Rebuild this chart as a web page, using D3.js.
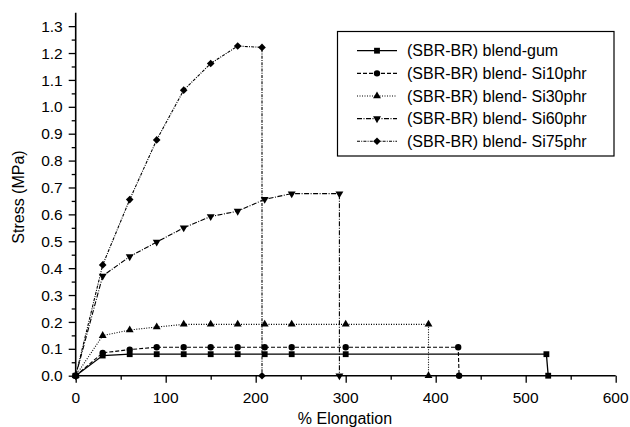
<!DOCTYPE html>
<html>
<head>
<meta charset="utf-8">
<script src="https://cdn.jsdelivr.net/npm/d3@7"></script>
<style>
  html, body { margin: 0; padding: 0; background: #fff; }
  svg { display: block; font-family: "Liberation Sans", Arial, Helvetica, sans-serif; }
</style>
</head>
<body>
<svg id="chart" width="630" height="427"></svg>
<script>
// ---- Data ----
const seriesNames = [
  "(SBR-BR) blend-gum",
  "(SBR-BR) blend- Si10phr",
  "(SBR-BR) blend- Si30phr",
  "(SBR-BR) blend- Si60phr",
  "(SBR-BR) blend- Si75phr"
];
const gumX  = [0, 30, 60, 90, 120, 150, 180, 210, 240, 300, 523, 525];
const gumY  = [0, 0.075, 0.080, 0.080, 0.080, 0.080, 0.080, 0.080, 0.080, 0.080, 0.080, 0];
const si10X = [0, 30, 60, 90, 120, 150, 180, 210, 240, 300, 425, 426];
const si10Y = [0, 0.085, 0.097, 0.106, 0.106, 0.106, 0.106, 0.106, 0.106, 0.106, 0.106, 0];
const si30X = [0, 30, 60, 90, 120, 150, 180, 210, 240, 300, 392, 392];
const si30Y = [0, 0.149, 0.170, 0.181, 0.191, 0.191, 0.191, 0.191, 0.191, 0.191, 0.191, 0];
const si60X = [0, 30, 60, 90, 120, 150, 180, 210, 240, 293, 293];
const si60Y = [0, 0.371, 0.443, 0.497, 0.550, 0.592, 0.612, 0.656, 0.677, 0.677, 0];
const si75X = [0, 30, 60, 90, 120, 150, 180, 207, 207];
const si75Y = [0, 0.412, 0.655, 0.877, 1.062, 1.161, 1.226, 1.221, 0];

const xTicks = [0, 100, 200, 300, 400, 500, 600];
const yTicks = [0, 0.1, 0.2, 0.3, 0.4, 0.5, 0.6, 0.7, 0.8, 0.9, 1.0, 1.1, 1.2, 1.3];
const xLabel = "% Elongation";
const yLabel = "Stress (MPa)";

// ---- Styles ----
const dashes  = [null, "4,2", "1,1.5", "5,1.5,1,1.5", "3,1.2,1,1.2"];
const widths  = [1.3, 1.1, 1.1, 1.1, 1.1];
const markers = ["square", "circle", "triUp", "triDown", "diamond"];

const svg = d3.select("#chart");
const x = d3.scaleLinear().domain([0, 600]).range([75.7, 615.7]);
const y = d3.scaleLinear().domain([0, 1.35]).range([375.7, 12.7]);

const series = [
  {xs: gumX, ys: gumY}, {xs: si10X, ys: si10Y}, {xs: si30X, ys: si30Y},
  {xs: si60X, ys: si60Y}, {xs: si75X, ys: si75Y}
].map((s, i) => ({name: seriesNames[i], dash: dashes[i], width: widths[i], marker: markers[i],
  pts: s.xs.map((v, j) => [v, s.ys[j]])}));

function symbolPath(kind) {
  switch (kind) {
    case "square":  return d3.symbol(d3.symbolSquare, 34)();
    case "circle":  return d3.symbol(d3.symbolCircle, 32)();
    case "triUp":   return d3.symbol(d3.symbolTriangle, 27)();
    case "triDown": return d3.symbol(d3.symbolTriangle, 27)();
    case "diamond": return d3.symbol(d3.symbolSquare, 29)();
  }
}
function symbolRotate(kind) {
  if (kind === "triDown") return " rotate(180)";
  if (kind === "diamond") return " rotate(45)";
  return "";
}

// ---- Axes ----
const xAxisG = svg.append("g").attr("transform", `translate(0,${y(0)})`);
xAxisG.call(d3.axisBottom(x).tickValues(d3.range(0, 601, 50)).tickSize(5).tickFormat(""))
  .call(g => g.select(".domain").remove());
xAxisG.selectAll(".tick line").attr("stroke", "#000").attr("stroke-width", 1.3)
  .attr("y2", d => d % 100 === 0 ? 7 : 4);
xAxisG.append("line").attr("x1", x(0)).attr("x2", x(600)).attr("y1", 0).attr("y2", 0)
  .attr("stroke", "#000").attr("stroke-width", 1.6);
xAxisG.selectAll(".lbl").data(xTicks).enter().append("text")
  .attr("x", d => x(d)).attr("y", 27).attr("text-anchor", "middle")
  .attr("font-size", 15.5).attr("fill", "#000").text(d => d);

const yAxisG = svg.append("g").attr("transform", `translate(${x(0)},0)`);
yAxisG.call(d3.axisLeft(y).tickValues(d3.range(0, 27).map(i => i * 0.05)).tickSize(4).tickFormat(""))
  .call(g => g.select(".domain").remove());
yAxisG.selectAll(".tick line").attr("stroke", "#000").attr("stroke-width", 1.3)
  .attr("x2", (d, i) => i % 2 === 0 ? -7 : -4);
yAxisG.append("line").attr("x1", 0).attr("x2", 0).attr("y1", y(0)).attr("y2", y(1.35))
  .attr("stroke", "#000").attr("stroke-width", 1.6);
yAxisG.selectAll(".lbl").data(yTicks).enter().append("text")
  .attr("x", -13).attr("y", d => y(d)).attr("dy", "0.36em").attr("text-anchor", "end")
  .attr("font-size", 15.5).attr("fill", "#000").text(d => d.toFixed(1));

svg.append("text").attr("x", 345).attr("y", 424).attr("text-anchor", "middle")
  .attr("font-size", 16).text(xLabel);
svg.append("text").attr("transform", "translate(24,197) rotate(-90)").attr("text-anchor", "middle")
  .attr("font-size", 16).text(yLabel);

// ---- Series ----
const line = d3.line().x(d => x(d[0])).y(d => y(d[1]));
const sg = svg.append("g");
series.forEach(s => {
  sg.append("path").attr("d", line(s.pts)).attr("fill", "none").attr("stroke", "#000")
    .attr("stroke-width", s.width).attr("stroke-dasharray", s.dash);
});
series.forEach(s => {
  sg.selectAll(null).data(s.pts).enter().append("path")
    .attr("d", symbolPath(s.marker))
    .attr("transform", d => `translate(${x(d[0])},${y(d[1])})` + symbolRotate(s.marker))
    .attr("fill", "#000");
});

// ---- Legend ----
const lg = svg.append("g");
lg.append("rect").attr("x", 337.5).attr("y", 31.5).attr("width", 276.5).attr("height", 124.5)
  .attr("fill", "#fff").attr("stroke", "#000").attr("stroke-width", 1.2);
series.forEach((s, i) => {
  const yy = 50.7 + i * 22.65;
  lg.append("line").attr("x1", 357).attr("x2", 397).attr("y1", yy).attr("y2", yy)
    .attr("stroke", "#000").attr("stroke-width", s.width).attr("stroke-dasharray", s.dash);
  lg.append("path").attr("d", symbolPath(s.marker))
    .attr("transform", `translate(377,${yy})` + symbolRotate(s.marker)).attr("fill", "#000");
  lg.append("text").attr("x", 407).attr("y", yy).attr("dy", "0.36em")
    .attr("font-size", 16).text(s.name);
});
</script>
</body>
</html>
